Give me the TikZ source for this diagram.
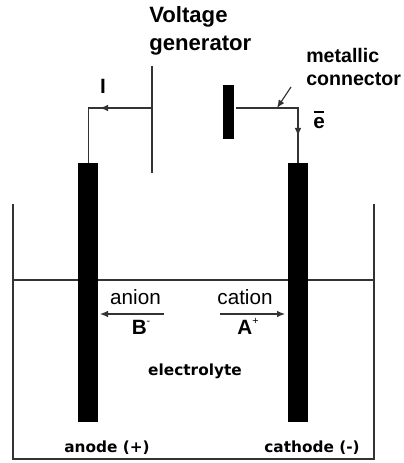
\documentclass[tikz,border=0pt]{standalone}
\usepackage{fontspec}
\setmainfont{Liberation Sans}
\newfontfamily\dvb{DejaVu Sans}
\usetikzlibrary{arrows.meta}
\tikzset{
  x=0.75pt,y=-0.75pt,
  ln/.style={draw=black!80,line width=0.9pt},
  plate/.style={fill=black,draw=none},
  big/.style={inner sep=0pt,anchor=base west,font=\bfseries\fontsize{16.6pt}{18pt}\selectfont},
  mid/.style={inner sep=0pt,anchor=base west,font=\bfseries\fontsize{14.7pt}{16pt}\selectfont},
  ion/.style={inner sep=0pt,anchor=base,font=\fontsize{15.5pt}{18pt}\selectfont},
  small/.style={inner sep=0pt,anchor=base,font=\dvb\bfseries\fontsize{11.5pt}{13pt}\selectfont},
  sym/.style={inner sep=0pt,anchor=base,font=\bfseries\fontsize{15.5pt}{18pt}\selectfont},
  tip/.style={-{Latex[length=6pt,width=5pt]}},
}
\begin{document}
\begin{tikzpicture}
\useasboundingbox (0,0) rectangle (403,463);
% container and liquid
\draw[ln] (13,204) -- (13,459) -- (374,459) -- (374,204);
\draw[ln] (13,280) -- (374,280);
% electrodes
\fill[plate] (78,163) rectangle (98,422);
\fill[plate] (288,163) rectangle (308,422);
\coordinate (anodetop) at (88.5,163);
\coordinate (cathodetop) at (298,163);
% generator plates
\draw[ln] (152,66) -- (152,173);
\fill[plate] (223,85) rectangle (234,139);
\coordinate (gl) at (152,108);
\coordinate (gr) at (236,108);
\coordinate (cornerl) at (88.5,108);
\coordinate (cornerr) at (298,108);
% wires
\draw[ln] (gl) -- (cornerl) -- (anodetop);
\draw[ln] (gr) -- (cornerr) -- (cathodetop);
\draw[ln,tip] (gl) -- (100,108);
\draw[ln,tip] (cornerr) -- (298,136);
\coordinate (p1) at (291,87);
\coordinate (p2) at (277,108);
\draw[ln,tip] (p1) -- (p2);
% labels
\node[big] (v) at (149,23) {Voltage};
\node[big] (g) at (149,51) {generator};
\node[mid] (m1) at (306,63) {metallic};
\node[mid] (m2) at (306,86) {connector};
\node[sym] (i) at (103,94) {I};
\node[sym] (e) at (319,129) {e};
\fill[black] (314,111) rectangle (324,113);
% ions
\node[ion] (an) at (135.5,304) {anion};
\node[ion] (ca) at (245,304) {cation};
\coordinate (a1) at (164,314);
\coordinate (a2) at (100,314);
\coordinate (c1) at (220,314);
\coordinate (c2) at (285,314);
\draw[ln,tip] (a1) -- (a2);
\draw[ln,tip] (c1) -- (c2);
\node[ion] (b) at (141,334) {\textbf{B}\raisebox{0.45em}{\fontsize{8pt}{9pt}\selectfont -}};
\node[ion] (a) at (248,334) {\textbf{A}\raisebox{0.45em}{\fontsize{8pt}{9pt}\selectfont +}};
\node[small] (el) at (195,375) {electrolyte};
\node[small] (ad) at (107,452) {anode (+)};
\node[small] (cd) at (312,452) {cathode (-)};
\end{tikzpicture}
\end{document}
